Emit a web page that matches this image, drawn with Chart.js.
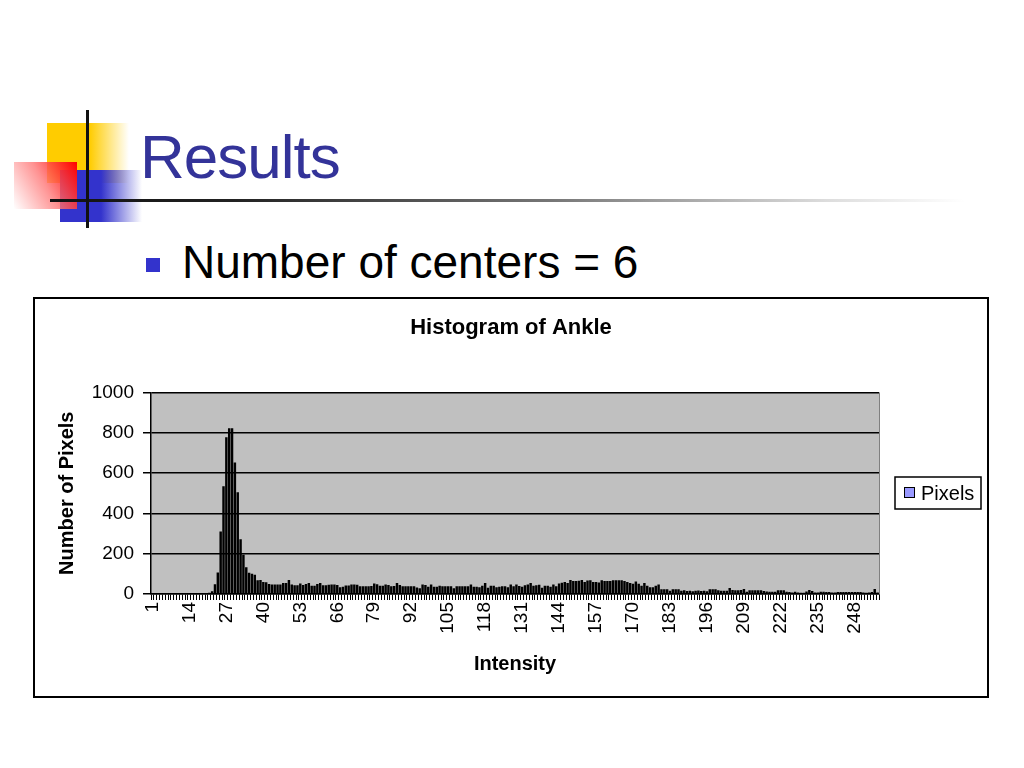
<!DOCTYPE html>
<html><head><meta charset="utf-8">
<script src="https://cdn.jsdelivr.net/npm/chart.js@4/dist/chart.umd.min.js"></script>
<style>
html,body{margin:0;padding:0;background:#fff;width:1024px;height:768px;overflow:hidden;position:relative;font-family:"Liberation Sans",Arial,sans-serif;}
.abs{position:absolute;}
</style></head><body>
<div class="abs" style="left:47px;top:123px;width:82px;height:60px;background:linear-gradient(to right,#FFCC00 0%,#FFCC00 52%,rgba(255,204,0,0) 100%);"></div>
<div class="abs" style="left:60px;top:170px;width:82px;height:52px;background:linear-gradient(to right,#3333CC 0%,#3333CC 50%,rgba(51,51,204,0) 100%);"></div>
<div class="abs" style="left:14px;top:162px;width:63px;height:47px;background:linear-gradient(60deg,rgba(255,255,255,0.9) 0%,rgba(255,120,120,0.8) 50%,#ff0000 100%);"></div>
<div class="abs" style="left:50px;top:199px;width:915px;height:3px;background:linear-gradient(to right,#111 0%,#222 20%,#777 55%,#ddd 85%,rgba(255,255,255,0) 100%);"></div>
<div class="abs" style="left:86px;top:110px;width:3px;height:118px;background:#111;"></div>
<div class="abs" style="left:140px;top:126px;font-size:62px;line-height:1;color:#333399;letter-spacing:-1px;">Results</div>
<div class="abs" style="left:146px;top:258px;width:14px;height:14px;background:#3333CC;"></div>
<div class="abs" style="left:182px;top:239px;font-size:46px;line-height:1;color:#000;">Number of centers = 6</div>
<div class="abs" style="left:33px;top:297px;width:956px;height:401px;border:2px solid #000;box-sizing:border-box;background:#fff;">
<canvas id="c" width="952" height="397" style="display:block;width:952px;height:397px;"></canvas>
</div>
<script>
const chartTitle = "Histogram of Ankle";
const seriesName = "Pixels";
const xTitle = "Intensity";
const yTitle = "Number of Pixels";
const intensity = [
1,2,3,4,5,6,7,8,9,10,11,12,13,14,15,16,17,18,19,20,
21,22,23,24,25,26,27,28,29,30,31,32,33,34,35,36,37,38,39,40,
41,42,43,44,45,46,47,48,49,50,51,52,53,54,55,56,57,58,59,60,
61,62,63,64,65,66,67,68,69,70,71,72,73,74,75,76,77,78,79,80,
81,82,83,84,85,86,87,88,89,90,91,92,93,94,95,96,97,98,99,100,
101,102,103,104,105,106,107,108,109,110,111,112,113,114,115,116,117,118,119,120,
121,122,123,124,125,126,127,128,129,130,131,132,133,134,135,136,137,138,139,140,
141,142,143,144,145,146,147,148,149,150,151,152,153,154,155,156,157,158,159,160,
161,162,163,164,165,166,167,168,169,170,171,172,173,174,175,176,177,178,179,180,
181,182,183,184,185,186,187,188,189,190,191,192,193,194,195,196,197,198,199,200,
201,202,203,204,205,206,207,208,209,210,211,212,213,214,215,216,217,218,219,220,
221,222,223,224,225,226,227,228,229,230,231,232,233,234,235,236,237,238,239,240,
241,242,243,244,245,246,247,248,249,250,251,252,253,254,255,256];
const pixels = [
0,0,0,0,0,0,0,0,0,0,0,0,0,0,0,0,0,0,0,0,
6,14,48,107,310,535,778,822,822,652,505,272,195,133,106,100,95,68,70,60,
58,50,47,47,47,47,55,55,70,47,44,44,52,45,50,54,41,41,50,54,
44,44,46,47,47,45,34,36,42,42,47,47,46,39,39,39,39,40,52,48,
41,41,47,45,39,40,54,45,39,39,39,39,39,32,28,47,45,36,47,36,
36,41,39,39,39,39,28,39,39,39,39,39,47,36,36,34,41,54,31,41,
41,34,36,39,38,34,47,39,47,40,36,44,47,54,41,44,46,31,41,41,
36,47,39,52,56,60,54,70,64,64,66,70,60,67,68,60,60,57,68,64,
64,65,68,68,68,68,64,60,55,51,62,51,41,54,41,34,34,41,47,23,
23,23,16,23,23,23,16,18,15,16,14,16,17,15,16,14,23,23,23,18,
16,16,16,30,20,18,18,20,25,11,18,18,18,18,18,15,13,11,11,11,
18,18,18,11,10,8,11,8,6,6,12,20,15,8,8,11,11,10,10,8,
8,10,10,10,10,10,10,10,10,10,8,6,8,10,25,8];
const shownTicks = ["1","14","27","40","53","66","79","92","105","118","131","144","157","170","183","196","209","222","235","248"];
const yMin = 0, yMax = 1000, yStep = 200;

Chart.defaults.font.family = "'Liberation Sans', Arial, Helvetica, sans-serif";
Chart.defaults.color = "#000";

const decor = {
  id: 'decor',
  beforeDraw(chart) {
    const {ctx, chartArea: a} = chart;
    ctx.save();
    ctx.fillStyle = '#C0C0C0';
    ctx.fillRect(a.left, a.top, a.right - a.left, a.bottom - a.top);
    ctx.restore();
  },
  afterDraw(chart) {
    const {ctx, chartArea: a} = chart;
    ctx.save();
    ctx.strokeStyle = '#808080';
    ctx.lineWidth = 1;
    ctx.beginPath();
    ctx.moveTo(a.right + 0.5, a.top);
    ctx.lineTo(a.right + 0.5, a.bottom);
    ctx.stroke();
    // legend box
    const lx = 860, ly = 178, lw = 86, lh = 32;
    ctx.fillStyle = '#fff';
    ctx.fillRect(lx, ly, lw, lh);
    ctx.strokeStyle = '#000';
    ctx.lineWidth = 1.5;
    ctx.strokeRect(lx, ly, lw, lh);
    ctx.fillStyle = '#9999FF';
    ctx.fillRect(lx + 9.5, ly + 10.5, 10, 10);
    ctx.lineWidth = 1;
    ctx.strokeRect(lx + 9.5, ly + 10.5, 10, 10);
    ctx.fillStyle = '#000';
    ctx.font = "20px 'Liberation Sans', Arial, sans-serif";
    ctx.textBaseline = 'middle';
    ctx.fillText(seriesName, lx + 26, ly + lh / 2 + 1);
    ctx.restore();
  }
};

new Chart(document.getElementById('c'), {
  type: 'bar',
  data: {
    labels: intensity.map(String),
    datasets: [{
      label: seriesName,
      data: pixels,
      backgroundColor: '#000',
      borderWidth: 0,
      categoryPercentage: 1.0,
      barPercentage: 0.86
    }]
  },
  options: {
    responsive: false,
    animation: false,
    layout: { padding: { left: 0, right: 0, top: 0, bottom: 0 } },
    plugins: {
      legend: { display: false },
      tooltip: { enabled: false },
      title: {
        display: true,
        text: chartTitle,
        color: '#000',
        font: { size: 22, weight: 'bold' },
        padding: { top: 16, bottom: 51 }
      }
    },
    scales: {
      x: {
        grid: { display: true, drawOnChartArea: false, drawTicks: true, tickLength: 6, color: '#000', lineWidth: 1 },
        border: { display: true, color: '#000', width: 1.5 },
        ticks: {
          autoSkip: false, maxRotation: 90, minRotation: 90, padding: 2,
          color: '#000', font: { size: 19 },
          callback: function (v, i) { const l = this.getLabelForValue(v); return shownTicks.includes(l) ? l : ''; }
        },
        title: { display: true, text: xTitle, color: '#000', font: { size: 20, weight: 'bold' }, padding: { top: 0, bottom: 20 } },
        afterFit(s) { s.height = 102; }
      },
      y: {
        min: yMin, max: yMax,
        grid: { color: '#000', lineWidth: 1.5, tickLength: 8, drawTicks: true },
        border: { display: true, color: '#000', width: 1.5 },
        ticks: { stepSize: yStep, padding: 9, color: '#000', font: { size: 19 }, callback: (v) => String(v) },
        title: { display: true, text: yTitle, color: '#000', font: { size: 20, weight: 'bold' }, padding: { top: 20, bottom: 0 } },
        afterFit(s) { s.width = 116; }
      },
      legendSpace: {
        type: 'linear', position: 'right', display: true, min: 0, max: 1,
        grid: { display: false, drawTicks: false },
        border: { display: false },
        ticks: { display: false },
        afterFit(s) { s.width = 108; }
      }
    }
  },
  plugins: [decor]
});
</script>
</body></html>
